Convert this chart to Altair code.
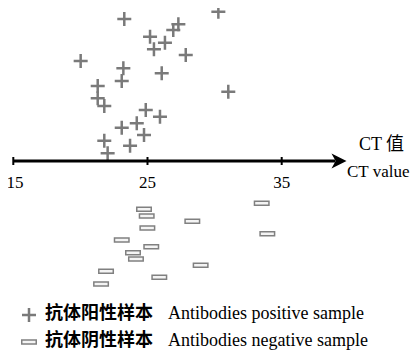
import altair as alt
import pandas as pd

# Antibody-positive samples (CT value, vertical spread position)
pos_ct = [23.27, 30.28, 27.30, 26.92, 25.19, 26.30, 25.48, 27.85, 20.02, 23.20, 26.06, 23.08,
          21.29, 31.02, 21.29, 21.78, 24.87, 25.93, 24.20, 23.08, 24.74, 21.78, 23.70, 22.03]
pos_y = [142, 149.3, 136.7, 131, 124.3, 118.3, 111.7, 106, 100, 92.7, 87.7, 80,
         75, 69.3, 62.7, 55, 51, 44.3, 37.7, 33.3, 26, 20.3, 15.3, 7.7]

# Antibody-negative samples
neg_ct = [33.51, 24.74, 24.94, 28.34, 24.99, 33.93, 23.08, 25.28, 23.92, 24.14, 28.96, 21.91, 25.88, 21.54]
neg_y = [-42.3, -48.3, -55, -60.3, -67, -72.7, -79, -85.7, -91.7, -98, -104.3, -110.3, -116.3, -123]

tick_values = [15, 25, 35]
tick_label_pos = [15.13, 25, 35]
axis_start = 15
axis_end = 39.0
arrow_at = 39.27
legend_zh = ["抗体阳性样本", "抗体阴性样本"]
legend_en = ["Antibodies positive sample", "Antibodies negative sample"]
axis_title = ["CT 值", "CT value"]

W, H = 402, 342
xs = alt.Scale(domain=[14.605, 14.605 + W / 13.42], nice=False, zero=False)
ys = alt.Scale(domain=[-189, 153], nice=False, zero=False)

def X(f="x"):
    return alt.X(f"{f}:Q", scale=xs, axis=None)

def Y(f="y"):
    return alt.Y(f"{f}:Q", scale=ys, axis=None)

pos_df = pd.DataFrame({"x": pos_ct, "y": pos_y})
neg_df = pd.DataFrame({"x": neg_ct, "y": neg_y})
tick_df = pd.DataFrame({"x": tick_values, "lx": tick_label_pos, "y": [-4] * 3, "y2": [4] * 3,
                        "lab": [str(v) for v in tick_values]})
line_df = pd.DataFrame({"x": [axis_start], "x2": [axis_end], "y": [0]})
arrow_df = pd.DataFrame({"x": [arrow_at], "y": [0]})

serif = "Liberation Serif"
cjk_bold = "Noto Sans CJK SC"

axis_line = alt.Chart(line_df).mark_rule(color="black", strokeWidth=3).encode(
    x=X(), x2="x2:Q", y=Y())
ticks = alt.Chart(tick_df).mark_rule(color="black", strokeWidth=2).encode(
    x=X(), y=Y(), y2="y2:Q")
tick_labels = alt.Chart(tick_df).mark_text(
    font=serif, fontSize=17, color="black", dy=18, baseline="middle", align="center"
).encode(x=X("lx"), y=Y(), text="lab:N")
arrow = alt.Chart(arrow_df).mark_point(
    shape="M-1,-1L1,0L-1,1L-0.45,0Z", size=225, filled=True, color="black", opacity=1
).encode(x=X(), y=Y())
title_zh = alt.Chart(pd.DataFrame({"t": [axis_title[0]]})).mark_text(
    font=f"{serif}, Noto Sans CJK SC", fontSize=18, color="black", align="center", baseline="middle"
).encode(x=alt.value(373.5), y=alt.value(137), text="t:N")
title_en = alt.Chart(pd.DataFrame({"t": [axis_title[1]]})).mark_text(
    font=serif, fontSize=17, color="black", align="right", baseline="middle"
).encode(x=alt.value(401.5), y=alt.value(164), text="t:N")

plus_path = "M-1,0H1M0,-1V1"
rect_path = "M-1,-0.27H1V0.27H-1Z"
plus_color = "#7a7a7a"

pos_pts = alt.Chart(pos_df).mark_point(
    shape=plus_path, size=196, filled=False, stroke=plus_color, strokeWidth=2.5, opacity=1
).encode(x=X(), y=Y())
neg_pts = alt.Chart(neg_df).mark_point(
    shape=rect_path, size=210, filled=True, fill="#f4f4f4", stroke="#808080", strokeWidth=1.5, opacity=1
).encode(x=X(), y=Y())

one = pd.DataFrame({"a": [0]})
leg_plus = alt.Chart(one).mark_point(
    shape=plus_path, size=196, filled=False, stroke=plus_color, strokeWidth=2.5, opacity=1
).encode(x=alt.value(21), y=alt.value(307))
leg_rect = alt.Chart(one).mark_point(
    shape=rect_path, size=210, filled=True, fill="#f4f4f4", stroke="#808080", strokeWidth=1.5, opacity=1
).encode(x=alt.value(21), y=alt.value(334))

def leg_text(txt, xpos, ypos, font, weight):
    return alt.Chart(pd.DataFrame({"t": [txt]})).mark_text(
        font=font, fontSize=18, fontWeight=weight, color="black", align="left", baseline="middle"
    ).encode(x=alt.value(xpos), y=alt.value(ypos), text="t:N")

legend_layers = [
    leg_text(legend_zh[0], 37, 306, cjk_bold, "bold"),
    leg_text(legend_en[0], 160, 306, serif, "normal"),
    leg_text(legend_zh[1], 37, 333, cjk_bold, "bold"),
    leg_text(legend_en[1], 160, 333, serif, "normal"),
]

chart = alt.layer(
    pos_pts, neg_pts, axis_line, ticks, tick_labels, arrow, title_zh, title_en,
    leg_plus, leg_rect, *legend_layers
).properties(
    width=W, height=H, autosize=alt.AutoSizeParams(type="none"), padding=0,
    background="white"
).configure_view(stroke=None)

chart.save("out.html", embed_options={"renderer": "svg", "actions": False})
